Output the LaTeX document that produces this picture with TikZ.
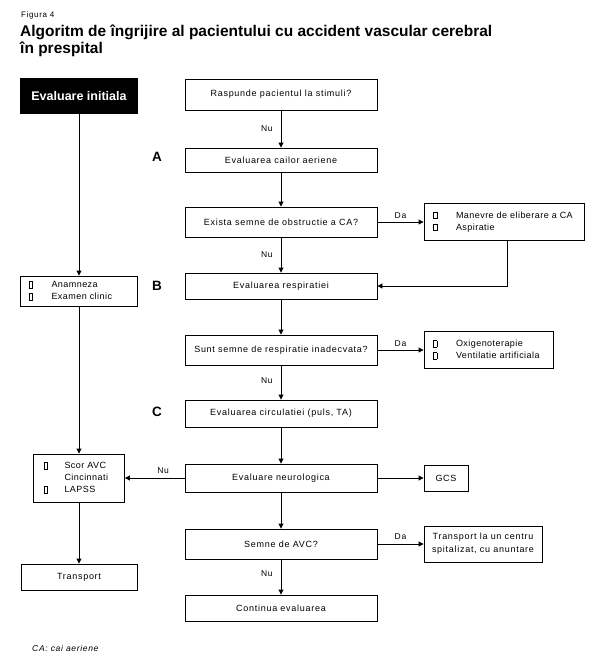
\documentclass[tikz,border=0pt]{standalone}
\usepackage{fontspec}
\setmainfont{Liberation Sans}
\newfontfamily\boxfont[LetterSpace=8]{Liberation Sans}
\newfontfamily\listfont[LetterSpace=5]{Liberation Sans}
\usetikzlibrary{arrows.meta}
\newcommand\bx{{\setlength{\fboxsep}{0pt}\setlength{\fboxrule}{0.9pt}\fbox{\rule{0pt}{5.5pt}\hspace{2.6pt}}}}
\newcommand\itm[1][23pt]{\makebox[#1][l]{\bx}}
\begin{document}
\begin{tikzpicture}[x=1pt,y=-1pt,
  mbox/.style={draw, line width=0.9pt, font=\boxfont\fontsize{9}{13}\selectfont, inner sep=0pt, minimum width=192pt, align=center},
  lbox/.style={draw, line width=0.9pt, font=\listfont\fontsize{9}{12}\selectfont, inner ysep=0pt, inner xsep=9pt, align=left},
  arr/.style={-{Triangle[length=5pt,width=5pt]}, line width=0.9pt},
  lab/.style={font=\boxfont\fontsize{8.5}{10}\selectfont, inner sep=1pt},
  sec/.style={font=\bfseries\fontsize{13.5}{14}\selectfont, inner sep=0pt}
]
\useasboundingbox[fill=white] (0,0) rectangle (605,670);

% titles
\node[anchor=base west, inner sep=0pt, font=\boxfont\fontsize{8}{9}\selectfont] (fig) at (21,17) {Figura 4};
\node[anchor=base west, inner sep=0pt, font=\bfseries\fontsize{15.5}{17}\selectfont] (t1) at (20,36) {Algoritm de îngrijire al pacientului cu accident vascular cerebral};
\node[anchor=base west, inner sep=0pt, font=\bfseries\fontsize{15.5}{17}\selectfont] (t2) at (20,53) {în prespital};

% left column
\node[fill=black, text=white, minimum width=118pt, minimum height=36pt, inner sep=0pt, font=\bfseries\fontsize{12.5}{14}\selectfont] (init) at (79,96) {Evaluare initiala};
\node[lbox, inner xsep=8pt, text width=101pt, minimum height=30pt] (anam) at (79,291) {\itm Anamneza\\\itm Examen clinic};
\node[lbox, inner xsep=10pt, text width=71pt, minimum height=48pt] (scor) at (79,478) {\itm[21pt]Scor AVC\\\hspace*{21pt}Cincinnati\\\itm[21pt]LAPSS};
\node[mbox, minimum width=116pt, minimum height=26pt] (transp) at (79,577) {Transport};

% section letters
\node[sec] (la) at (157,157) {A};
\node[sec] (lb) at (157,285.5) {B};
\node[sec] (lc) at (157,412) {C};

% main column
\node[mbox, minimum height=31pt] (r1) at (281,94.5) {Raspunde pacientul la stimuli?};
\node[mbox, minimum height=24pt] (r2) at (281,160) {Evaluarea cailor aeriene};
\node[mbox, minimum height=30pt] (r3) at (281,222) {Exista semne de obstructie a CA?};
\node[mbox, minimum height=26pt] (r4) at (281,286) {Evaluarea respiratiei};
\node[mbox, minimum height=30pt] (r5) at (281,350) {Sunt semne de respiratie inadecvata?};
\node[mbox, minimum height=27pt] (r6) at (281,413.5) {Evaluarea circulatiei  (puls, TA)};
\node[mbox, minimum height=28pt] (r7) at (281,478) {Evaluare neurologica};
\node[mbox, minimum height=30pt] (r8) at (281,544) {Semne de AVC?};
\node[mbox, minimum height=26pt] (r9) at (281,608) {Continua evaluarea};

% right column
\node[lbox, text width=142pt, minimum height=37pt] (man) at (504,222) {\itm Manevre de eliberare a CA\\\itm Aspiratie};
\node[lbox, text width=111pt, minimum height=37pt] (oxi) at (488.5,350) {\itm Oxigenoterapie\\\itm Ventilatie artificiala};
\node[mbox, minimum width=44pt, minimum height=26pt] (gcs) at (446,478) {GCS};
\node[mbox, minimum width=118pt, minimum height=36pt] (tc) at (483,544) {Transport la un centru\\spitalizat, cu anuntare};

% footnote
\node[anchor=base west, inner sep=0pt, font=\boxfont\itshape\fontsize{8.5}{10}\selectfont] (foot) at (32,651) {CA: cai aeriene};

% connectors
\draw[arr] (init.south) -- (anam.north);
\draw[arr] (anam.south) -- (scor.north);
\draw[arr] (scor.south) -- (transp.north);

\draw[arr] (r1) -- node[lab, left=7pt]{Nu} (r2);
\draw[arr] (r2) -- (r3);
\draw[arr] (r3) -- node[lab, left=7pt]{Nu} (r4);
\draw[arr] (r3) -- node[lab, above=2pt]{Da} (man);
\draw[arr] ([xshift=3pt]man.south) |- (r4.east);
\draw[arr] (r4) -- (r5);
\draw[arr] (r5) -- node[lab, above=2pt]{Da} (oxi);
\draw[arr] (r5) -- node[lab, left=7pt, pos=0.45]{Nu} (r6);
\draw[arr] (r6) -- (r7);
\draw[arr] (r7) -- node[lab, above=3pt, pos=0.36]{Nu} (scor);
\draw[arr] (r7) -- (gcs);
\draw[arr] (r7) -- (r8);
\draw[arr] (r8) -- node[lab, above=3pt]{Da} (tc);
\draw[arr] (r8) -- node[lab, left=7pt, pos=0.4]{Nu} (r9);
\end{tikzpicture}
\end{document}
